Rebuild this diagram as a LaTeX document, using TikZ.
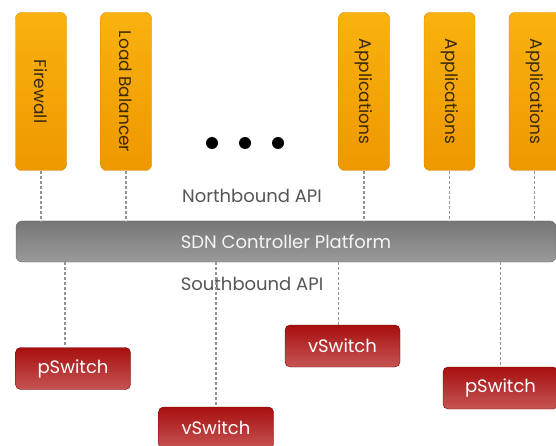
\documentclass[tikz,border=0pt]{standalone}
\usepackage{fontspec}
\setmainfont{Poppins}
\usepackage{tikz}
\usetikzlibrary{calc}
\tikzset{every picture/.append style={font=\fontsize{17}{20}\selectfont}}
\definecolor{appgold}{HTML}{F9B20E}
\definecolor{appdeep}{HTML}{EE9800}
\definecolor{apptext}{HTML}{3B2A0C}
\definecolor{ctrlgray}{HTML}{767676}
\definecolor{ctrllight}{HTML}{9A9A9A}
\definecolor{swred}{HTML}{A80F0F}
\definecolor{swdark}{HTML}{8E0A0A}
\definecolor{swlight}{HTML}{C65454}
\definecolor{apigray}{HTML}{555555}

\begin{document}
\begin{tikzpicture}[x=1pt,y=-1pt,
    appbox/.style={rounded corners=6pt,top color=appgold,bottom color=appdeep,draw=appdeep!90!black,
      minimum width=51pt,minimum height=158pt,inner sep=0pt,text=apptext},
    swbox/.style={rounded corners=5pt,top color=swred,middle color=swdark,bottom color=swlight,draw=swdark!80!black,
      minimum width=115pt,minimum height=42pt,inner sep=0pt,text=white,font=\fontsize{18}{20}\selectfont},
    conn/.style={draw=gray!85,line width=1.1pt,dashed,dash pattern=on 3pt off 2pt}]
    \useasboundingbox (0,0) rectangle (556,446);
    % applications on top
    \node[appbox] (fw) at (41,91.5) {\rotatebox{-90}{Firewall}};
    \node[appbox] (lb) at (126,91.5) {\rotatebox{-90}{Load Balancer}};
    \node[appbox] (app1) at (364,91.5) {\rotatebox{-90}{Applications}};
    \node[appbox] (app2) at (449.5,91.5) {\rotatebox{-90}{Applications}};
    \node[appbox] (app3) at (534.5,91.5) {\rotatebox{-90}{Applications}};
    \foreach \x/\n in {212/d1,245/d2,278/d3} {\node[circle,fill=black,minimum size=12pt,inner sep=0pt] (\n) at (\x,143) {};}
    % controller
    \node[rounded corners=6pt,top color=ctrlgray,middle color=ctrlgray,bottom color=ctrllight,draw=ctrlgray!85!black,
      minimum width=540pt,minimum height=41pt,inner sep=0pt,text=white!92!gray,font=\fontsize{18}{20}\selectfont]
      (ctrl) at (286,241.5) {SDN Controller Platform};
    \node[text=apigray,font=\fontsize{18}{20}\selectfont] (nb) at (252,196) {Northbound API};
    \node[text=apigray,font=\fontsize{18}{20}\selectfont] (sb) at (252,284) {Southbound API};
    % switches
    \node[swbox] (psw1) at (73,368.5) {pSwitch};
    \node[swbox] (vsw1) at (216,428) {vSwitch};
    \node[swbox] (vsw2) at (342.5,346) {vSwitch};
    \node[swbox] (psw2) at (500.5,388) {pSwitch};
    \foreach \a in {fw,lb,app1,app2,app3} {\draw[conn] (\a.south) -- (\a.south |- ctrl.north);}
    \foreach \s/\dx in {psw1/-8,vsw1/0,vsw2/-4,psw2/0} {\draw[conn] ([xshift=\dx pt]\s.north |- ctrl.south) -- ([xshift=\dx pt]\s.north);}
\end{tikzpicture}
\end{document}
